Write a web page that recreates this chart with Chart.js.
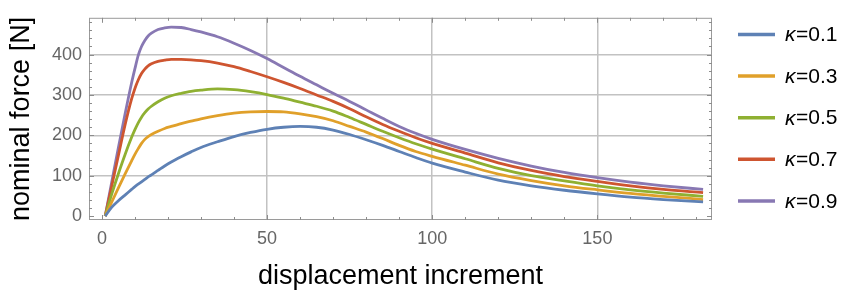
<!DOCTYPE html>
<html>
<head>
<meta charset="utf-8">
<script src="https://cdn.jsdelivr.net/npm/chart.js@4.4.1/dist/chart.umd.min.js"></script>
<style>
  html, body { margin: 0; padding: 0; background: #ffffff; }
  #wrap { width: 844px; height: 293px; position: relative; }
</style>
</head>
<body>
<div id="wrap"><canvas id="c"></canvas></div>
<script>
// ---- data ----
const displacement = [1,3,5,7,9,10,11,12,13,14,15,17,19,21,24,27,30,35,40,45,50,55,60,65,70,75,80,85,90,95,100,110,120,130,140,150,160,170,182];
const kappa01 = [0,22,38,52,66,73,79,85,91,97,102,113,124,134,147,159,170,184,197,207,215,220,222,220,213,202,189,175,160,145,131,109,89,75,64,55,47,41,35];
const kappa03 = [0,35,70,104,137,153,167,180,190,197,202,210,217,222,229,235,241,249,255,258,259,258,253,246,236,222,208,192,175,160,148,126,104,88,75,65,56,49,41];
const kappa05 = [0,55,105,152,195,214,231,245,256,265,272,283,292,298,304,309,312,315,313,308,301,292,282,272,260,244,227,210,194,179,166,142,118,100,87,75,65,57,49];
const kappa07 = [0,75,150,225,290,316,337,353,364,372,377,383,386,388,388,387,385,379,370,358,345,331,316,300,284,266,246,227,210,194,180,156,132,113,98,86,75,66,58];
const kappa09 = [0,85,170,252,330,365,398,420,435,446,453,462,466,468,467,462,456,444,428,410,390,368,346,325,304,284,263,242,222,205,190,165,143,124,108,95,84,75,66];
const seriesLabels = ['κ=0.1','κ=0.3','κ=0.5','κ=0.7','κ=0.9'];
const xTicks = [0,50,100,150];
const yTicks = [0,100,200,300,400];
const xMinorTicks = [0,10,20,30,40,50,60,70,80,90,100,110,120,130,140,150,160,170,180];
const yMinorTicks = [0,20,40,60,80,100,120,140,160,180,200,220,240,260,280,300,320,340,360,380,400,420,440,460,480];

const colors = ['#5E81B5','#E0A02A','#8FB032','#CE5530','#8878B3'];
const seriesValues = [kappa01,kappa03,kappa05,kappa07,kappa09];

const datasets = seriesValues.map((vals,i) => ({
  label: seriesLabels[i],
  data: displacement.map((x,j) => ({x: x, y: vals[j]})),
  borderColor: colors[i],
  backgroundColor: colors[i],
  borderWidth: 2.8,
  pointRadius: 0,
  fill: false,
  cubicInterpolationMode: 'monotone'
}));

const FONT = "'Liberation Sans', Arial, sans-serif";

const frameTicks = {
  id: 'frameTicks',
  afterDatasetsDraw(chart) {
    const {ctx, chartArea: a, scales: {x, y}} = chart;
    ctx.save();
    ctx.strokeStyle = '#9a9a9a';
    ctx.lineWidth = 1;
    ctx.strokeRect(a.left + 0.5, a.top + 0.5, a.right - a.left - 1, a.bottom - a.top - 1);
    ctx.strokeStyle = '#8c8c8c';
    ctx.beginPath();
    for (const v of xMinorTicks) {
      const px = Math.round(x.getPixelForValue(v)) + 0.5;
      const L = xTicks.includes(v) ? 5 : 3;
      ctx.moveTo(px, a.bottom); ctx.lineTo(px, a.bottom - L);
      ctx.moveTo(px, a.top); ctx.lineTo(px, a.top + L);
    }
    for (const v of yMinorTicks) {
      const py = Math.round(y.getPixelForValue(v)) + 0.5;
      const L = yTicks.includes(v) ? 5 : 3;
      ctx.moveTo(a.left, py); ctx.lineTo(a.left + L, py);
      ctx.moveTo(a.right, py); ctx.lineTo(a.right - L, py);
    }
    ctx.stroke();
    ctx.restore();
  }
};

const sideLegend = {
  id: 'sideLegend',
  afterDraw(chart) {
    const {ctx} = chart;
    ctx.save();
    const top = 34.5, gap = 41.6;
    chart.data.datasets.forEach((ds, i) => {
      const yy = top + i * gap;
      ctx.strokeStyle = ds.borderColor;
      ctx.lineWidth = 3.5;
      ctx.beginPath();
      ctx.moveTo(738, yy); ctx.lineTo(775, yy);
      ctx.stroke();
      ctx.fillStyle = '#000';
      ctx.textBaseline = 'middle';
      ctx.textAlign = 'left';
      const sym = ds.label.charAt(0), rest = ds.label.slice(1);
      ctx.font = 'italic 21px ' + FONT;
      ctx.fillText(sym, 785, yy + 1);
      const w = ctx.measureText(sym).width;
      ctx.font = '21px ' + FONT;
      ctx.fillText(rest, 785 + w + 0.5, yy + 1);
    });
    ctx.restore();
  }
};

new Chart(document.getElementById('c'), {
  type: 'line',
  data: { datasets },
  plugins: [frameTicks, sideLegend],
  options: {
    responsive: true,
    maintainAspectRatio: false,
    animation: false,
    devicePixelRatio: 1,
    layout: { padding: { left: 0, right: 132, top: 13, bottom: 0 } },
    plugins: { legend: { display: false }, tooltip: { enabled: false } },
    scales: {
      x: {
        type: 'linear',
        min: -3.9,
        max: 184.7,
        afterFit: s => { s.height = 73; },
        afterBuildTicks: s => { s.ticks = xTicks.map(v => ({value: v})); },
        border: { display: false },
        grid: {
          drawTicks: false,
          lineWidth: 1.5,
          color: c => (c.tick && c.tick.value === 0) ? 'rgba(0,0,0,0)' : '#c2c2c2'
        },
        ticks: {
          padding: 8,
          color: '#666',
          maxRotation: 0,
          autoSkip: false,
          font: { family: FONT, size: 18 }
        },
        title: {
          display: true,
          text: 'displacement increment',
          color: '#000',
          font: { family: FONT, size: 27 },
          padding: { top: 0, bottom: 0 }
        }
      },
      y: {
        type: 'linear',
        min: -9.7,
        max: 491,
        afterFit: s => { s.width = 89; },
        afterBuildTicks: s => { s.ticks = yTicks.map(v => ({value: v})); },
        border: { display: false },
        grid: {
          drawTicks: false,
          lineWidth: 1.5,
          color: c => (c.tick && c.tick.value === 0) ? 'rgba(0,0,0,0)' : '#c2c2c2'
        },
        ticks: {
          padding: 7,
          color: '#666',
          autoSkip: false,
          font: { family: FONT, size: 18 }
        },
        title: {
          display: true,
          text: 'nominal force [N]',
          color: '#000',
          font: { family: FONT, size: 27 },
          padding: { top: 5, bottom: 0 }
        }
      }
    }
  }
});
</script>
</body>
</html>
